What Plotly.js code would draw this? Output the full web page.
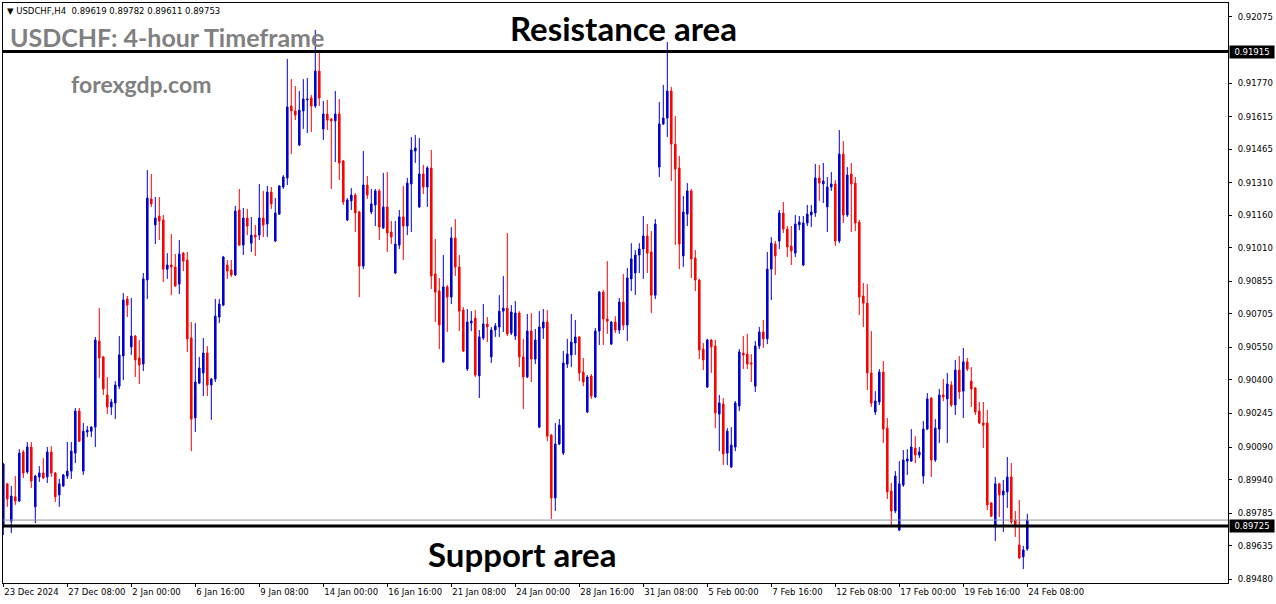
<!DOCTYPE html>
<html><head><meta charset="utf-8">
<script src="https://cdn.plot.ly/plotly-3.0.1.min.js"></script>
<style>html,body{margin:0;padding:0;background:#fff;}#chart{width:1276px;height:604px;}</style>
</head><body><div id="chart"></div>
<script>
// Prices in points (1 point = 0.00001), candle index 0..256 (H4 bars)
const openPts = [89721,89920,89748,89860,89841,90067,89975,90090,89814,89952,89970,89952,90067,89970,89869,89910,89956,89979,90062,90256,89979,90159,90163,90182,90579,90506,90330,90275,90293,90371,90510,90773,90552,90602,90501,90473,90861,91235,91115,91156,91138,90911,90930,90921,90842,90985,90953,90593,90224,90385,90432,90524,90376,90404,90690,90745,90930,90907,90884,91184,91022,91147,91031,91068,91068,91147,91119,91267,91041,91165,91290,91332,91664,91641,91484,91641,91692,91701,91664,91825,91558,91627,91604,91595,91627,91410,91138,91226,91253,91175,90925,91299,91175,91207,91272,91101,91198,91082,90893,91022,91152,91110,91304,91456,91198,91350,91290,91378,90889,90810,90483,90829,90782,91055,90921,90722,90450,90662,90685,90418,90593,90658,90506,90630,90644,90717,90731,90616,90602,90708,90506,90413,90625,90496,90182,90639,90667,90145,89855,90104,90062,90473,90515,90570,90598,90436,90252,90418,90321,90625,90805,90681,90565,90667,90630,90759,90653,90866,90893,90976,91004,91064,90990,90791,91382,91581,91608,91733,91488,91378,90972,91165,91272,90962,90861,90542,90367,90584,90556,90242,90289,90062,89998,90090,90279,90524,90519,90478,90371,90556,90621,90589,90911,91027,91041,91170,91096,91018,90985,91115,90930,91124,91161,91170,91332,91304,91198,91290,91304,91041,91442,91161,91350,91308,91128,90787,90754,90432,90252,90298,90436,90177,89887,89795,89707,89915,90025,90025,90085,90053,89956,90173,90316,90030,90173,90330,90312,90376,90284,90445,90348,90483,90394,90362,90256,90201,90201,89832,89721,89920,89869,89883,89952,89753,89638,89583,89619];
const highPts = [90016,89925,89910,89956,90080,90076,90113,90113,89961,90002,90039,90090,90094,89975,89943,89966,90113,90113,90270,90270,90201,90187,90187,90598,90731,90510,90413,90312,90394,90602,90801,90787,90778,90607,90584,90893,91368,91350,91244,91244,91161,90985,91073,90981,91045,90990,90990,90667,90662,90506,90593,90556,90408,90773,90773,90972,90953,90953,91203,91281,91193,91189,91152,91115,91304,91272,91295,91290,91239,91299,91345,91881,91788,91756,91733,91788,91793,91715,92015,91908,91687,91692,91608,91733,91696,91415,91239,91285,91262,91180,91456,91341,91281,91281,91281,91355,91359,91133,91133,91184,91295,91332,91521,91530,91516,91392,91387,91461,91050,90870,90976,90838,91105,91142,90976,90736,90727,90717,90722,90630,90750,90690,90644,90662,90791,90879,91078,90745,90764,90717,90589,90704,90708,90635,90717,90727,90722,90150,90201,90219,90533,90589,90704,90676,90602,90501,90422,90427,90639,90810,90815,90948,90671,90694,90778,90889,90916,91031,90999,91031,91156,91119,91087,91142,91682,91761,91959,91752,91618,91433,91249,91308,91281,90999,90866,90570,90589,90589,90584,90330,90316,90177,90182,90302,90542,90602,90612,90519,90579,90644,90676,90990,91059,91041,91184,91221,91110,91110,91161,91156,91156,91207,91207,91396,91392,91401,91336,91359,91322,91553,91502,91382,91401,91336,91138,90847,90842,90625,90348,90450,90487,90224,89924,89979,90025,90076,90080,90173,90140,90090,90210,90339,90321,90219,90358,90404,90432,90394,90492,90510,90547,90501,90459,90367,90298,90298,90261,89836,89952,89924,89938,90044,90016,89795,89846,89634,89782];
const lowPts = [89684,89814,89693,89823,89836,89947,89966,89901,89739,89929,89943,89924,89952,89836,89814,89906,89943,89943,90016,90113,89961,90136,90136,90090,90408,90330,90242,90238,90219,90358,90399,90690,90515,90413,90381,90441,90773,91198,91027,91045,90852,90866,90791,90829,90796,90902,90529,90071,90159,90380,90325,90325,90215,90390,90662,90740,90866,90875,90879,91018,90976,91068,90990,90972,91045,91059,91059,91189,91036,91161,91281,91299,91442,91599,91479,91558,91539,91544,91655,91664,91507,91553,91281,91405,91322,91207,91133,91184,91082,90782,90911,91235,91165,91110,91045,91096,90990,91027,90888,91004,90953,91068,91082,91401,91193,91258,91198,90819,90667,90542,90478,90621,90750,90879,90625,90529,90441,90625,90413,90316,90584,90575,90478,90598,90598,90621,90602,90607,90584,90459,90265,90408,90390,90473,90177,90589,90117,89758,89795,90099,90053,90455,90459,90515,90394,90371,90247,90312,90316,90561,90561,90612,90561,90616,90612,90630,90579,90810,90791,90893,90866,90893,90708,90773,91336,91576,91521,91318,91022,90911,90921,91110,90870,90810,90496,90445,90362,90432,90177,90071,90007,90007,89993,90071,90256,90450,90450,90390,90344,90542,90547,90565,90768,90884,91004,91078,90967,90930,90967,91091,90925,91110,91105,91152,91226,91216,91082,91272,91018,91031,91124,91152,91082,91087,90699,90644,90353,90275,90238,90284,90108,89850,89721,89785,89702,89906,89961,90021,90016,90039,89920,90168,89952,90021,90108,90302,90108,90275,90238,90312,90224,90441,90275,90238,90196,90085,89799,89767,89656,89767,89698,89809,89735,89675,89573,89527,89611];
const closePts = [90012,89850,89864,89841,90062,89970,90090,89933,89956,89970,89947,90067,89970,89860,89920,89961,89979,90071,90256,90117,90163,90168,90182,90584,90501,90358,90275,90298,90376,90515,90768,90745,90602,90492,90469,90866,91239,91212,91147,91133,90911,90930,90921,90833,90981,90948,90589,90219,90390,90455,90524,90376,90404,90694,90750,90967,90902,90884,91179,91022,91147,91110,91068,91059,91147,91115,91267,91212,91170,91295,91336,91659,91641,91622,91645,91696,91696,91664,91825,91701,91627,91599,91595,91627,91401,91221,91230,91253,91170,90925,91299,91253,91212,91272,91105,91198,91078,91059,91027,91152,91110,91308,91461,91470,91350,91290,91378,90879,90805,90653,90829,90782,91055,90921,90717,90533,90667,90671,90422,90598,90658,90644,90630,90649,90717,90731,90612,90713,90708,90506,90413,90625,90496,90584,90644,90667,90140,89855,90104,90191,90478,90519,90575,90598,90432,90390,90413,90325,90625,90805,90681,90671,90667,90630,90759,90653,90870,90958,90976,91004,91064,90985,90791,91119,91581,91608,91733,91488,91373,91027,91175,91272,90958,90861,90538,90492,90584,90552,90247,90293,90058,90163,90099,90293,90529,90515,90473,90473,90556,90621,90589,90911,91031,90972,91170,91096,91013,90995,91119,91128,91124,91165,91175,91332,91308,91318,91290,91304,91041,91442,91161,91345,91304,91124,90782,90754,90432,90293,90302,90436,90173,89883,89795,89956,89920,90030,90035,90090,90053,90067,90173,90312,90030,90177,90330,90321,90381,90284,90445,90344,90483,90450,90358,90252,90201,90191,89823,89771,89920,89869,89887,89952,89744,89730,89578,89615,89753];

const xTickIdx = [0,16,32,48,64,80,96,112,128,144,160,176,192,208,224,240,256];
const xTickText = ["23 Dec 2024","27 Dec 08:00","2 Jan 00:00","6 Jan 16:00","9 Jan 08:00","14 Jan 00:00","16 Jan 16:00","21 Jan 08:00","24 Jan 00:00","28 Jan 16:00","31 Jan 08:00","5 Feb 00:00","7 Feb 16:00","12 Feb 08:00","17 Feb 00:00","19 Feb 16:00","24 Feb 08:00"];
const yTickVals = [0.92075,0.91770,0.91615,0.91465,0.91310,0.91160,0.91010,0.90855,0.90705,0.90550,0.90400,0.90245,0.90090,0.89940,0.89785,0.89635,0.89480];
const resistanceLevel = 0.91915;
const supportLevel = 0.89725;
const bidLevel = 0.89753;
const headerText = "USDCHF,H4  0.89619 0.89782 0.89611 0.89753";

const toPrice = a => a.map(v => v / 100000);
const idx = openPts.map((_, i) => i);
const BLUE = '#0000d2', RED = '#ff0000';

const trace = {
  type: 'candlestick', x: idx,
  open: toPrice(openPts), high: toPrice(highPts), low: toPrice(lowPts), close: toPrice(closePts),
  increasing: {line: {color: BLUE, width: 1}, fillcolor: BLUE},
  decreasing: {line: {color: RED, width: 1}, fillcolor: RED},
  whiskerwidth: 0, hoverinfo: 'skip', showlegend: false
};

const tickFont = {family: 'DejaVu Sans', size: 8.5, color: '#000'};
const layout = {
  width: 1276, height: 604,
  margin: {l: 3, r: 48, t: 3, b: 21, pad: 0},
  paper_bgcolor: '#fff', plot_bgcolor: '#fff',
  boxgap: 0.45,
  showlegend: false,
  xaxis: {
    range: [-0.075, 306.175], showgrid: false, zeroline: false,
    rangeslider: {visible: false},
    showline: true, mirror: true, linecolor: '#000', linewidth: 1,
    ticks: 'outside', ticklen: 3, tickcolor: '#000',
    tickvals: xTickIdx, ticktext: xTickText, tickfont: tickFont, tickangle: 0,
    ticklabelposition: 'outside right', ticklabelstandoff: 1, fixedrange: true
  },
  yaxis: {
    range: [0.894625, 0.921392], side: 'right', showgrid: false, zeroline: false,
    showline: true, mirror: true, linecolor: '#000', linewidth: 1,
    ticks: 'outside', ticklen: 3, tickcolor: '#000',
    tickvals: yTickVals, ticktext: yTickVals.map(v => v.toFixed(5)), tickfont: tickFont,
    ticklabelstandoff: 4, fixedrange: true
  },
  shapes: [
    {type: 'line', xref: 'paper', x0: 0, x1: 1, yref: 'y', y0: bidLevel, y1: bidLevel, line: {color: '#8c939b', width: 1}, layer: 'above'},
    {type: 'line', xref: 'paper', x0: 0, x1: 1, yref: 'y', y0: resistanceLevel, y1: resistanceLevel, line: {color: '#000', width: 3}, layer: 'above'},
    {type: 'line', xref: 'paper', x0: 0, x1: 1, yref: 'y', y0: supportLevel, y1: supportLevel, line: {color: '#000', width: 3}, layer: 'above'}
  ],
  annotations: [
    {xref: 'paper', yref: 'paper', x: 0.002, y: 0.987, xanchor: 'left', yanchor: 'middle', showarrow: false,
     text: '\u25BC ' + headerText, font: {family: 'DejaVu Sans', size: 8.5, color: '#000'}},
    {xref: 'paper', yref: 'paper', x: 0.004, y: 0.9414, xanchor: 'left', yanchor: 'middle', showarrow: false,
     text: '<b>USDCHF: 4-hour Timeframe</b>', font: {family: 'Lato', size: 25, color: '#808080'}},
    {xref: 'paper', yref: 'paper', x: 0.0535, y: 0.8603, xanchor: 'left', yanchor: 'middle', showarrow: false,
     text: '<b>forexgdp.com</b>', font: {family: 'Lato', size: 23, color: '#808080'}},
    {xref: 'paper', yref: 'paper', x: 0.4125, y: 0.957, xanchor: 'left', yanchor: 'middle', showarrow: false,
     text: '<b>Resistance area</b>', font: {family: 'Lato', size: 33, color: '#000'}},
    {xref: 'paper', yref: 'paper', x: 0.3455, y: 0.05, xanchor: 'left', yanchor: 'middle', showarrow: false,
     text: '<b>Support area</b>', font: {family: 'Lato', size: 33, color: '#000'}},
    {xref: 'paper', yref: 'y', x: 1, y: resistanceLevel, xanchor: 'left', yanchor: 'middle', xshift: 1, showarrow: false,
     text: resistanceLevel.toFixed(5), bgcolor: '#000', borderpad: 1, width: 42, align: 'center',
     font: {family: 'DejaVu Sans', size: 8.5, color: '#fff'}},
    {xref: 'paper', yref: 'y', x: 1, y: supportLevel, xanchor: 'left', yanchor: 'middle', xshift: 1, showarrow: false,
     text: supportLevel.toFixed(5), bgcolor: '#000', borderpad: 1, width: 42, align: 'center',
     font: {family: 'DejaVu Sans', size: 8.5, color: '#fff'}}
  ]
};

Plotly.newPlot('chart', [trace], layout, {displayModeBar: false, staticPlot: true});
</script>
</body></html>
